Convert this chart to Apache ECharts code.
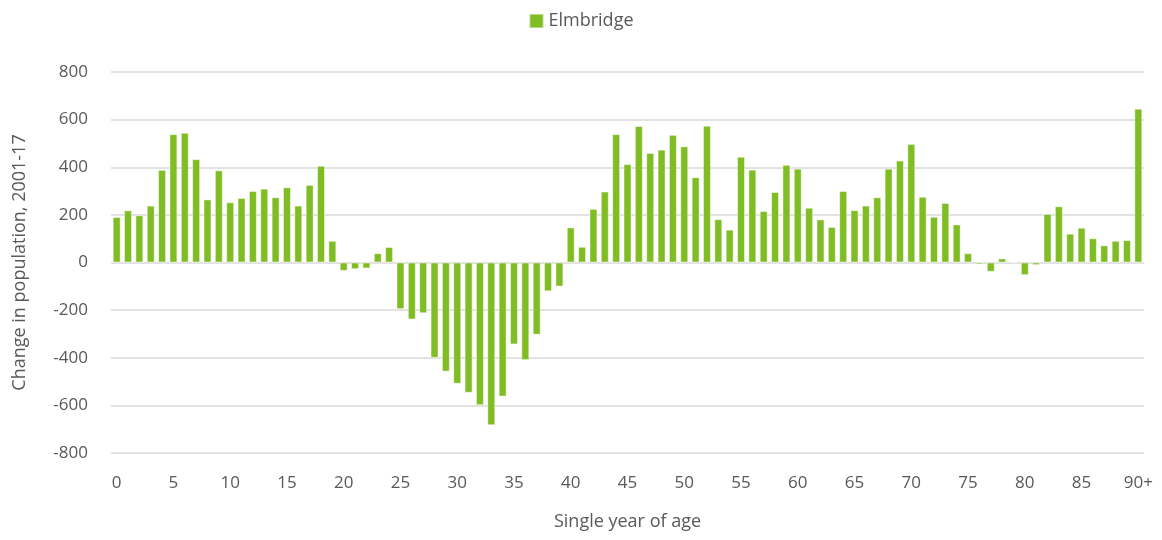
<!DOCTYPE html>
<html>
<head>
<meta charset="utf-8">
<script src="https://cdn.jsdelivr.net/npm/echarts@6/dist/echarts.min.js"></script>
<style>
    html, body {margin: 0; padding: 0; background: #fff;}
    #ageChart {width: 1162px; height: 540px;}
</style>
</head>
<body>
<div id="ageChart"></div>
<script>
    const ages = [];
    for (let a = 0; a < 90; a++) ages.push(String(a));
    ages.push('90+');

    const elmbridge = [
        191, 219, 198, 239, 389, 539, 545, 434, 265, 387,
        253, 271, 300, 310, 274, 316, 239, 326, 406, 91,
        -35, -28, -25, 39, 65, -196, -239, -213, -400, -458,
        -509, -547, -599, -683, -563, -344, -410, -303, -121, -101,
        147, 66, 225, 298, 539, 413, 573, 460, 474, 536,
        488, 358, 574, 182, 138, 444, 390, 216, 296, 410,
        394, 230, 181, 149, 300, 220, 239, 274, 394, 428,
        498, 276, 192, 250, 160, 39, -8, -39, 17, 3,
        -53, -11, 204, 236, 121, 146, 102, 72, 91, 94,
        646
    ];

    const yMin = -800;
    const yMax = 800;
    const yStep = 200;

    const textColor = '#595959';
    const barColor = '#80bc23';
    const fontFamily = '"Open Sans", "Noto Sans", sans-serif';

    const chart = echarts.init(document.getElementById('ageChart'));
    chart.setOption({
        animation: false,
        textStyle: {fontFamily: fontFamily},
        legend: {
            top: 7, left: 'center',
            itemWidth: 14, itemHeight: 14, itemGap: 6,
            icon: 'rect',
            textStyle: {color: textColor, fontSize: 18, fontFamily: fontFamily}
        },
        grid: {left: 111, right: 18, top: 72, bottom: 87},
        xAxis: {
            type: 'category',
            data: ages,
            name: 'Single year of age',
            nameLocation: 'middle',
            nameGap: 60,
            nameTextStyle: {color: textColor, fontSize: 18},
            axisLine: {show: false},
            axisTick: {show: false},
            axisLabel: {
                color: textColor, fontSize: 17, margin: 22,
                interval: (i) => i % 5 === 0
            }
        },
        yAxis: {
            type: 'value',
            min: yMin, max: yMax, interval: yStep,
            name: 'Change in population, 2001-17',
            nameLocation: 'middle',
            nameGap: 82,
            nameTextStyle: {color: textColor, fontSize: 18},
            axisLabel: {color: textColor, fontSize: 17, margin: 23},
            splitLine: {lineStyle: {color: '#d9d9d9', width: 1.5}}
        },
        series: [{
            name: 'Elmbridge',
            type: 'bar',
            data: elmbridge,
            barCategoryGap: '30%',
            itemStyle: {
                color: barColor,
                borderColor: 'rgba(255,255,255,0.45)',
                borderWidth: 1
            }
        }]
    });
</script>
</body>
</html>
